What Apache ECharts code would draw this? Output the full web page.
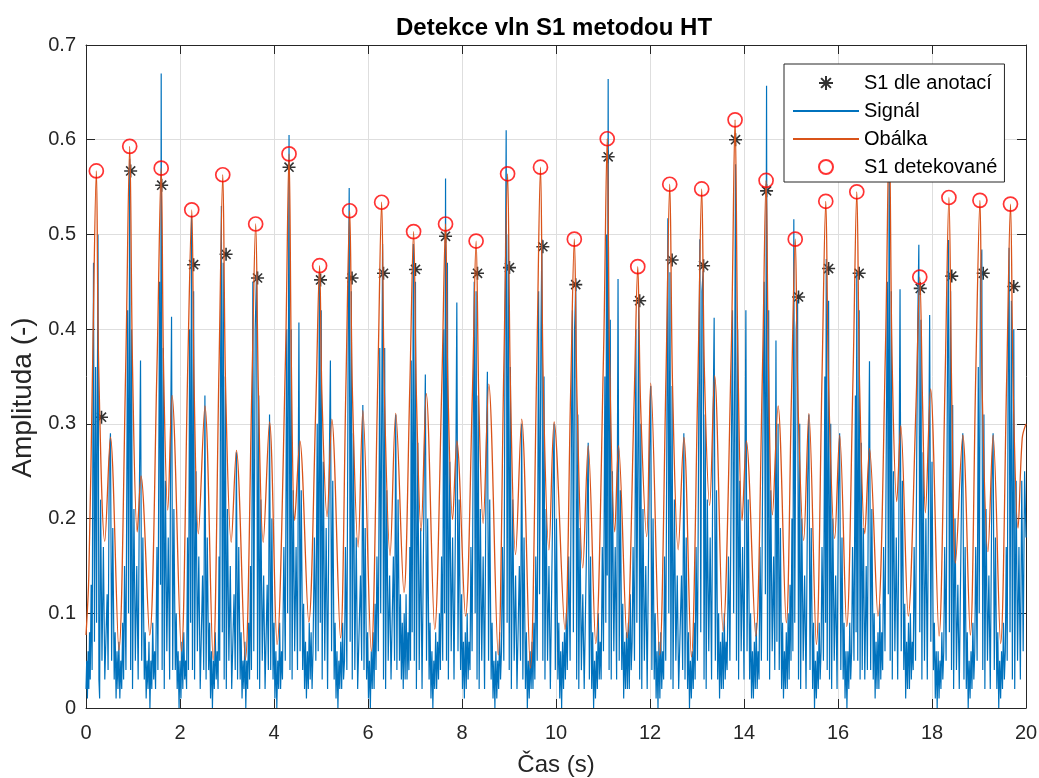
<!DOCTYPE html>
<html>
<head>
<meta charset="utf-8">
<script src="https://cdn.jsdelivr.net/npm/echarts@6/dist/echarts.min.js"></script>
<style>
  html, body { margin: 0; padding: 0; background: #fff; }
  #chart { width: 1039px; height: 778px; }
</style>
</head>
<body>
<div id="chart"></div>
<script>
// Axis ranges [min, max, step]
const xRange = [0, 20, 2];
const yRange = [0, 0.7, 0.1];

// S1 positions taken from the annotations (time s, amplitude)
const annotatedT = [0.33, 0.95, 1.61, 2.29, 2.98, 3.65, 4.32, 4.99, 5.66, 6.33, 7.01, 7.65, 8.33, 9.01, 9.72,
  10.42, 11.11, 11.78, 12.47, 13.14, 13.82, 14.48, 15.16, 15.80, 16.45, 17.10, 17.75, 18.42, 19.09, 19.74];
const annotatedV = [0.307, 0.567, 0.552, 0.468, 0.479, 0.454, 0.571, 0.452, 0.454, 0.459, 0.463, 0.498, 0.459, 0.465, 0.487,
  0.447, 0.582, 0.430, 0.473, 0.467, 0.600, 0.546, 0.434, 0.464, 0.459, 0.580, 0.443, 0.456, 0.459, 0.445];

// S1 detected as envelope maxima (time s, amplitude)
const detectedT = [0.22, 0.93, 1.60, 2.25, 2.91, 3.61, 4.32, 4.97, 5.61, 6.29, 6.97, 7.65, 8.30, 8.97, 9.67,
  10.39, 11.09, 11.74, 12.42, 13.10, 13.81, 14.47, 15.09, 15.74, 16.40, 17.09, 17.74, 18.36, 19.02, 19.67];
const detectedV = [0.567, 0.593, 0.570, 0.526, 0.563, 0.511, 0.585, 0.467, 0.525, 0.534, 0.503, 0.511, 0.493, 0.564, 0.571,
  0.495, 0.601, 0.466, 0.553, 0.548, 0.621, 0.557, 0.495, 0.535, 0.545, 0.610, 0.455, 0.539, 0.536, 0.532];

// Envelope between the S1 maxima: flanks, post-S1 dip, S2 hump, diastolic minimum
const envelopeShape = [
  [0.00,0.077],[0.06,0.14],[0.14,0.36],[0.27,0.36],[0.40,0.176],[0.52,0.286],[0.70,0.061],
  [0.845,0.36],[0.99,0.36],[1.09,0.186],[1.17,0.245],[1.355,0.077],
  [1.51,0.36],[1.65,0.36],[1.74,0.209],[1.83,0.330],[2.03,0.060],
  [2.165,0.36],[2.30,0.34],[2.39,0.184],[2.53,0.319],[2.705,0.051],
  [2.83,0.36],[2.97,0.34],[3.09,0.175],[3.20,0.272],[3.39,0.051],
  [3.53,0.34],[3.67,0.33],[3.77,0.175],[3.905,0.302],[4.065,0.067],
  [4.24,0.36],[4.37,0.36],[4.44,0.198],[4.55,0.282],[4.74,0.091],
  [4.89,0.32],[5.02,0.33],[5.13,0.202],[5.23,0.305],[5.415,0.074],
  [5.53,0.34],[5.67,0.33],[5.79,0.170],[5.89,0.314],[6.07,0.060],
  [6.21,0.35],[6.35,0.33],[6.47,0.161],[6.59,0.311],[6.765,0.122],
  [6.89,0.34],[7.03,0.33],[7.13,0.187],[7.24,0.332],[7.42,0.083],
  [7.57,0.34],[7.70,0.34],[7.80,0.199],[7.89,0.282],[8.075,0.097],
  [8.22,0.33],[8.36,0.32],[8.45,0.195],[8.57,0.342],[8.77,0.056],
  [8.89,0.36],[9.03,0.34],[9.14,0.162],[9.27,0.305],[9.455,0.042],
  [9.59,0.36],[9.73,0.34],[9.85,0.167],[9.96,0.302],[10.19,0.083],
  [10.31,0.33],[10.45,0.32],[10.57,0.148],[10.685,0.277],[10.845,0.068],
  [11.01,0.37],[11.14,0.37],[11.25,0.186],[11.33,0.277],[11.51,0.074],
  [11.66,0.32],[11.80,0.32],[11.93,0.181],[12.015,0.343],[12.205,0.056],
  [12.34,0.35],[12.48,0.34],[12.60,0.167],[12.72,0.286],[12.88,0.054],
  [13.02,0.35],[13.16,0.35],[13.27,0.214],[13.375,0.351],[13.555,0.081],
  [13.73,0.38],[13.87,0.37],[13.96,0.198],[14.05,0.282],[14.25,0.076],
  [14.39,0.35],[14.52,0.36],[14.605,0.204],[14.725,0.319],[14.90,0.090],
  [15.01,0.33],[15.15,0.32],[15.27,0.177],[15.38,0.311],[15.54,0.067],
  [15.66,0.35],[15.80,0.34],[15.93,0.179],[16.035,0.288],[16.185,0.086],
  [16.32,0.35],[16.46,0.34],[16.57,0.184],[16.67,0.274],[16.85,0.097],
  [17.01,0.38],[17.15,0.37],[17.25,0.218],[17.335,0.298],[17.495,0.097],
  [17.66,0.32],[17.80,0.32],[17.86,0.206],[17.97,0.337],[18.15,0.076],
  [18.28,0.35],[18.42,0.33],[18.50,0.153],[18.655,0.288],[18.815,0.077],
  [18.93,0.35],[19.07,0.33],[19.19,0.165],[19.30,0.288],[19.46,0.068],
  [19.59,0.35],[19.73,0.33],[19.83,0.190],[19.92,0.285],[20.00,0.300]
];

// Heart sound signal (time s, amplitude), one line per cardiac cycle
const signalPoints = [
  [0.00,0.02],[0.015,0.05],[0.03,0.01],
  [0.045,0.06],[0.06,0.02],[0.075,0.08],[0.09,0.03],[0.11,0.13],[0.13,0.04],[0.16,0.47],[0.18,0.07],[0.205,0.36],[0.225,0.09],[0.255,0.50],[0.275,0.03],[0.29,0.01],[0.31,0.22],[0.34,0.05],[0.37,0.17],[0.40,0.03],[0.45,0.12],[0.47,0.04],[0.495,0.26],[0.52,0.29],[0.545,0.05],[0.57,0.19],[0.60,0.03],[0.62,0.08],[0.64,0.01],[0.66,0.06],[0.68,0.02],[0.70,0.07],[0.72,0.01],
  [0.74,0.05],[0.76,0.02],[0.78,0.09],[0.80,0.03],[0.82,0.15],[0.85,0.04],[0.885,0.42],[0.905,0.10],[0.93,0.58],[0.95,0.04],[0.97,0.40],[0.99,0.02],[1.02,0.21],[1.05,0.05],[1.08,0.15],[1.11,0.03],[1.135,0.22],[1.16,0.367],[1.185,0.05],[1.21,0.18],[1.24,0.03],[1.26,0.08],[1.28,0.01],[1.30,0.05],[1.32,0.02],[1.34,0.07],[1.36,0.00],[1.38,0.05],
  [1.40,0.02],[1.42,0.09],[1.44,0.03],[1.46,0.06],[1.48,0.02],[1.51,0.17],[1.53,0.04],[1.565,0.45],[1.585,0.13],[1.60,0.67],[1.62,0.04],[1.645,0.38],[1.665,0.02],[1.69,0.24],[1.72,0.06],[1.75,0.18],[1.78,0.03],[1.80,0.28],[1.82,0.413],[1.845,0.04],[1.87,0.21],[1.90,0.04],[1.92,0.10],[1.94,0.02],[1.96,0.06],[1.98,0.00],[2.00,0.05],[2.02,0.01],[2.04,0.07],
  [2.06,0.02],[2.08,0.08],[2.10,0.03],[2.12,0.05],[2.14,0.02],[2.16,0.18],[2.18,0.04],[2.205,0.40],[2.225,0.09],[2.245,0.52],[2.265,0.04],[2.29,0.44],[2.31,0.03],[2.34,0.25],[2.37,0.06],[2.40,0.16],[2.43,0.02],[2.48,0.14],[2.505,0.04],[2.53,0.33],[2.555,0.03],[2.58,0.18],[2.61,0.04],[2.63,0.09],[2.65,0.01],[2.67,0.06],[2.69,0.00],[2.71,0.05],[2.73,0.02],
  [2.75,0.08],[2.77,0.03],[2.79,0.06],[2.81,0.02],[2.83,0.16],[2.845,0.05],[2.865,0.38],[2.88,0.53],[2.90,0.08],[2.92,0.47],[2.94,0.03],[2.965,0.35],[2.985,0.02],[3.01,0.21],[3.04,0.05],[3.07,0.15],[3.10,0.02],[3.15,0.12],[3.175,0.04],[3.20,0.27],[3.225,0.03],[3.25,0.17],[3.28,0.03],[3.30,0.08],[3.32,0.01],[3.34,0.05],[3.36,0.02],[3.38,0.07],[3.40,0.00],
  [3.42,0.05],[3.44,0.02],[3.46,0.09],[3.48,0.03],[3.50,0.15],[3.52,0.04],[3.55,0.45],[3.57,0.06],[3.60,0.40],[3.63,0.461],[3.65,0.03],[3.675,0.33],[3.695,0.02],[3.72,0.22],[3.75,0.05],[3.78,0.14],[3.81,0.02],[3.855,0.13],[3.88,0.04],[3.905,0.31],[3.93,0.04],[3.955,0.20],[3.98,0.03],[4.00,0.09],[4.02,0.01],[4.04,0.06],[4.06,0.00],[4.08,0.05],[4.10,0.02],
  [4.12,0.09],[4.14,0.02],[4.16,0.06],[4.18,0.03],[4.21,0.17],[4.24,0.05],[4.27,0.40],[4.29,0.10],[4.32,0.605],[4.34,0.04],[4.365,0.40],[4.385,0.03],[4.41,0.23],[4.44,0.06],[4.47,0.17],[4.50,0.04],[4.53,0.407],[4.555,0.06],[4.58,0.23],[4.61,0.04],[4.63,0.11],[4.65,0.02],[4.67,0.07],[4.69,0.01],[4.71,0.06],[4.73,0.02],[4.75,0.09],
  [4.77,0.03],[4.79,0.08],[4.81,0.02],[4.83,0.06],[4.86,0.18],[4.89,0.05],[4.92,0.30],[4.94,0.06],[4.965,0.46],[4.985,0.09],[5.005,0.42],[5.025,0.03],[5.05,0.26],[5.08,0.05],[5.11,0.19],[5.14,0.02],[5.175,0.25],[5.20,0.367],[5.225,0.06],[5.25,0.24],[5.28,0.03],[5.30,0.09],[5.32,0.01],[5.34,0.06],[5.36,0.00],[5.38,0.05],[5.40,0.02],[5.42,0.07],
  [5.44,0.02],[5.46,0.09],[5.48,0.03],[5.50,0.05],[5.52,0.17],[5.55,0.04],[5.58,0.40],[5.60,0.549],[5.62,0.07],[5.645,0.44],[5.665,0.03],[5.69,0.29],[5.72,0.04],[5.75,0.18],[5.78,0.02],[5.84,0.14],[5.865,0.05],[5.89,0.32],[5.915,0.04],[5.94,0.19],[5.97,0.03],[5.99,0.08],[6.01,0.01],[6.03,0.05],[6.05,0.00],[6.07,0.06],[6.09,0.02],
  [6.11,0.08],[6.13,0.02],[6.15,0.11],[6.17,0.04],[6.19,0.16],[6.22,0.06],[6.25,0.38],[6.27,0.10],[6.31,0.49],[6.33,0.03],[6.355,0.38],[6.375,0.02],[6.40,0.23],[6.43,0.05],[6.46,0.14],[6.49,0.03],[6.54,0.16],[6.565,0.05],[6.59,0.31],[6.615,0.04],[6.64,0.22],[6.67,0.05],[6.69,0.12],[6.71,0.03],[6.73,0.09],[6.75,0.02],[6.77,0.10],[6.79,0.03],
  [6.81,0.12],[6.83,0.03],[6.85,0.08],[6.87,0.04],[6.89,0.17],[6.905,0.05],[6.92,0.367],[6.94,0.08],[6.965,0.49],[6.985,0.05],[7.01,0.45],[7.03,0.02],[7.06,0.28],[7.09,0.04],[7.12,0.19],[7.15,0.02],[7.195,0.24],[7.22,0.352],[7.245,0.05],[7.27,0.20],[7.30,0.03],[7.32,0.09],[7.34,0.01],[7.36,0.06],[7.38,0.00],[7.40,0.05],[7.42,0.02],[7.44,0.08],
  [7.46,0.02],[7.48,0.07],[7.50,0.03],[7.52,0.10],[7.54,0.04],[7.565,0.16],[7.59,0.05],[7.61,0.40],[7.63,0.10],[7.65,0.559],[7.67,0.05],[7.69,0.47],[7.71,0.03],[7.74,0.26],[7.77,0.06],[7.80,0.18],[7.83,0.03],[7.865,0.22],[7.89,0.428],[7.915,0.06],[7.94,0.22],[7.97,0.04],[7.99,0.12],[8.01,0.02],[8.03,0.07],[8.05,0.01],[8.07,0.08],[8.09,0.02],
  [8.11,0.10],[8.13,0.03],[8.15,0.07],[8.17,0.04],[8.19,0.17],[8.215,0.06],[8.24,0.30],[8.26,0.45],[8.28,0.10],[8.30,0.44],[8.32,0.03],[8.345,0.33],[8.365,0.02],[8.39,0.21],[8.42,0.05],[8.45,0.16],[8.48,0.02],[8.515,0.26],[8.54,0.355],[8.565,0.05],[8.59,0.22],[8.62,0.03],[8.64,0.09],[8.66,0.01],[8.68,0.05],[8.70,0.00],[8.72,0.06],[8.74,0.01],[8.76,0.05],
  [8.78,0.02],[8.80,0.08],[8.82,0.03],[8.84,0.06],[8.86,0.17],[8.89,0.05],[8.915,0.38],[8.94,0.61],[8.96,0.09],[8.985,0.50],[9.005,0.04],[9.03,0.36],[9.05,0.02],[9.08,0.22],[9.11,0.05],[9.14,0.14],[9.17,0.02],[9.22,0.15],[9.245,0.05],[9.27,0.30],[9.295,0.03],[9.32,0.18],[9.35,0.02],[9.37,0.08],[9.39,0.00],[9.41,0.05],[9.43,0.01],[9.45,0.06],[9.47,0.02],
  [9.49,0.07],[9.51,0.02],[9.53,0.09],[9.55,0.03],[9.57,0.16],[9.60,0.05],[9.63,0.44],[9.65,0.12],[9.68,0.40],[9.70,0.495],[9.72,0.05],[9.745,0.35],[9.765,0.03],[9.79,0.21],[9.82,0.05],[9.85,0.15],[9.88,0.02],[9.935,0.23],[9.96,0.30],[9.985,0.04],[10.01,0.20],[10.04,0.03],[10.06,0.09],[10.08,0.01],[10.10,0.06],[10.12,0.00],[10.14,0.07],[10.16,0.02],
  [10.18,0.08],[10.20,0.03],[10.22,0.10],[10.24,0.04],[10.27,0.16],[10.30,0.05],[10.33,0.30],[10.35,0.42],[10.37,0.08],[10.395,0.40],[10.42,0.446],[10.44,0.03],[10.465,0.31],[10.485,0.02],[10.51,0.19],[10.54,0.04],[10.57,0.12],[10.60,0.02],[10.66,0.20],[10.685,0.28],[10.71,0.03],[10.735,0.16],[10.76,0.02],[10.78,0.08],[10.80,0.00],[10.82,0.05],[10.84,0.01],[10.86,0.06],[10.88,0.02],
  [10.90,0.10],[10.92,0.03],[10.94,0.07],[10.96,0.03],[10.985,0.17],[11.01,0.06],[11.04,0.35],[11.06,0.09],[11.075,0.50],[11.09,0.14],[11.11,0.664],[11.13,0.04],[11.155,0.41],[11.175,0.03],[11.20,0.25],[11.23,0.06],[11.26,0.17],[11.29,0.03],[11.32,0.453],[11.345,0.05],[11.37,0.23],[11.40,0.04],[11.42,0.11],[11.44,0.01],[11.46,0.07],[11.48,0.02],[11.50,0.08],[11.52,0.02],
  [11.54,0.09],[11.56,0.02],[11.58,0.12],[11.60,0.04],[11.62,0.07],[11.64,0.17],[11.67,0.05],[11.70,0.40],[11.72,0.09],[11.76,0.43],[11.78,0.03],[11.805,0.30],[11.825,0.02],[11.85,0.21],[11.88,0.05],[11.91,0.15],[11.94,0.02],[11.99,0.27],[12.015,0.34],[12.04,0.04],[12.065,0.20],[12.09,0.03],[12.11,0.10],[12.13,0.01],[12.15,0.06],[12.17,0.00],[12.19,0.07],[12.21,0.01],
  [12.23,0.08],[12.25,0.02],[12.27,0.06],[12.29,0.03],[12.31,0.16],[12.335,0.05],[12.36,0.30],[12.38,0.517],[12.40,0.10],[12.425,0.46],[12.445,0.03],[12.47,0.34],[12.49,0.02],[12.52,0.22],[12.55,0.05],[12.58,0.14],[12.61,0.02],[12.67,0.14],[12.695,0.04],[12.72,0.29],[12.745,0.03],[12.77,0.18],[12.80,0.02],[12.82,0.08],[12.84,0.00],[12.86,0.05],[12.88,0.01],[12.90,0.06],
  [12.92,0.02],[12.94,0.09],[12.96,0.03],[12.98,0.17],[13.01,0.05],[13.04,0.33],[13.06,0.495],[13.08,0.08],[13.105,0.44],[13.13,0.461],[13.15,0.03],[13.175,0.31],[13.195,0.02],[13.22,0.22],[13.25,0.06],[13.28,0.18],[13.31,0.03],[13.34,0.29],[13.365,0.412],[13.39,0.05],[13.415,0.23],[13.44,0.03],[13.46,0.10],[13.48,0.01],[13.50,0.07],[13.52,0.02],[13.54,0.08],[13.56,0.02],
  [13.58,0.10],[13.60,0.03],[13.62,0.07],[13.64,0.04],[13.67,0.16],[13.70,0.05],[13.73,0.26],[13.755,0.42],[13.78,0.10],[13.82,0.574],[13.84,0.05],[13.865,0.40],[13.885,0.03],[13.91,0.24],[13.94,0.06],[13.97,0.17],[14.00,0.03],[14.04,0.42],[14.065,0.06],[14.09,0.22],[14.12,0.03],[14.14,0.10],[14.16,0.01],[14.18,0.06],[14.20,0.01],[14.22,0.07],[14.24,0.02],
  [14.26,0.09],[14.28,0.02],[14.30,0.06],[14.32,0.03],[14.34,0.17],[14.37,0.05],[14.40,0.27],[14.43,0.45],[14.455,0.12],[14.48,0.657],[14.50,0.05],[14.525,0.42],[14.545,0.03],[14.57,0.23],[14.60,0.06],[14.63,0.16],[14.655,0.04],[14.68,0.388],[14.70,0.07],[14.725,0.30],[14.75,0.04],[14.775,0.19],[14.80,0.02],[14.82,0.09],[14.84,0.01],[14.86,0.06],[14.88,0.02],[14.90,0.08],[14.92,0.02],
  [14.94,0.10],[14.96,0.03],[14.98,0.13],[15.00,0.05],[15.02,0.20],[15.04,0.06],[15.06,0.516],[15.08,0.09],[15.11,0.40],[15.14,0.431],[15.16,0.03],[15.185,0.30],[15.205,0.02],[15.23,0.20],[15.26,0.05],[15.29,0.14],[15.32,0.02],[15.355,0.24],[15.38,0.31],[15.405,0.04],[15.43,0.19],[15.46,0.02],[15.48,0.09],[15.50,0.00],[15.52,0.05],[15.54,0.01],[15.56,0.06],
  [15.58,0.02],[15.60,0.09],[15.62,0.03],[15.64,0.06],[15.66,0.17],[15.69,0.05],[15.72,0.35],[15.735,0.09],[15.75,0.474],[15.77,0.04],[15.80,0.43],[15.82,0.03],[15.845,0.30],[15.865,0.02],[15.89,0.20],[15.92,0.05],[15.95,0.14],[15.98,0.02],[16.01,0.23],[16.035,0.29],[16.06,0.04],[16.085,0.18],[16.11,0.03],[16.13,0.09],[16.15,0.01],[16.17,0.06],[16.19,0.00],[16.21,0.06],
  [16.23,0.02],[16.25,0.09],[16.27,0.03],[16.29,0.06],[16.31,0.17],[16.34,0.05],[16.37,0.33],[16.385,0.08],[16.40,0.46],[16.42,0.05],[16.45,0.42],[16.47,0.03],[16.495,0.28],[16.515,0.04],[16.54,0.19],[16.57,0.03],[16.60,0.15],[16.625,0.04],[16.645,0.22],[16.67,0.366],[16.695,0.04],[16.72,0.21],[16.75,0.03],[16.77,0.10],[16.79,0.01],[16.81,0.07],[16.83,0.02],[16.85,0.08],[16.87,0.02],
  [16.89,0.11],[16.91,0.03],[16.93,0.08],[16.95,0.04],[16.97,0.17],[17.00,0.06],[17.03,0.30],[17.05,0.45],[17.07,0.12],[17.09,0.62],[17.11,0.05],[17.135,0.44],[17.155,0.03],[17.18,0.25],[17.21,0.06],[17.24,0.18],[17.27,0.03],[17.295,0.20],[17.32,0.442],[17.345,0.06],[17.37,0.24],[17.40,0.04],[17.42,0.11],[17.44,0.01],[17.46,0.07],[17.48,0.02],[17.50,0.09],[17.52,0.02],
  [17.54,0.10],[17.56,0.03],[17.58,0.07],[17.60,0.04],[17.62,0.17],[17.65,0.05],[17.675,0.27],[17.695,0.40],[17.72,0.489],[17.74,0.08],[17.765,0.41],[17.785,0.03],[17.81,0.27],[17.84,0.05],[17.87,0.20],[17.90,0.03],[17.925,0.22],[17.95,0.415],[17.975,0.07],[18.00,0.26],[18.03,0.04],[18.05,0.09],[18.07,0.01],[18.09,0.06],[18.11,0.00],[18.13,0.06],[18.15,0.01],[18.17,0.05],
  [18.19,0.02],[18.21,0.08],[18.23,0.03],[18.25,0.06],[18.27,0.17],[18.30,0.05],[18.33,0.37],[18.35,0.494],[18.37,0.08],[18.395,0.44],[18.415,0.04],[18.44,0.32],[18.46,0.02],[18.49,0.20],[18.52,0.04],[18.55,0.13],[18.58,0.02],[18.63,0.23],[18.655,0.29],[18.68,0.03],[18.705,0.17],[18.73,0.02],[18.75,0.08],[18.77,0.00],[18.79,0.05],[18.81,0.01],[18.83,0.06],
  [18.85,0.02],[18.87,0.09],[18.89,0.03],[18.91,0.06],[18.93,0.17],[18.96,0.05],[18.985,0.36],[19.005,0.10],[19.03,0.45],[19.06,0.484],[19.08,0.04],[19.105,0.31],[19.125,0.02],[19.15,0.21],[19.18,0.05],[19.21,0.14],[19.24,0.02],[19.275,0.24],[19.30,0.29],[19.325,0.04],[19.35,0.18],[19.38,0.02],[19.40,0.08],[19.42,0.00],[19.44,0.05],[19.46,0.01],[19.48,0.06],
  [19.50,0.02],[19.52,0.09],[19.54,0.03],[19.56,0.06],[19.58,0.17],[19.60,0.05],[19.62,0.35],[19.64,0.486],[19.66,0.08],[19.69,0.43],[19.71,0.03],[19.74,0.40],[19.76,0.02],[19.79,0.24],[19.82,0.05],[19.85,0.17],[19.88,0.03],[19.91,0.24],[19.94,0.06],[19.97,0.25],[20.00,0.18]
];

// Envelope = shape points plus the detected maxima, ordered by time
const envelopePoints = envelopeShape
  .concat(detectedT.map((t, i) => [t, detectedV[i]]))
  .sort((a, b) => a[0] - b[0]);

const FONT = '"Liberation Sans", Arial, Helvetica, sans-serif';
const AXIS_COLOR = '#262626';
const STAR = 'path://M0,-10L0,10M-10,0L10,0M-7,-7L7,7M-7,7L7,-7';

const chart = echarts.init(document.getElementById('chart'), null, { renderer: 'canvas' });

const baseAxis = {
  axisLine: { show: true, onZero: false, lineStyle: { color: AXIS_COLOR, width: 1 } },
  axisTick: { show: true, inside: true, length: 9, lineStyle: { color: AXIS_COLOR, width: 1 } }
};

chart.setOption({
  animation: false,
  backgroundColor: '#ffffff',
  textStyle: { fontFamily: FONT },
  title: {
    text: 'Detekce vln S1 metodou HT',
    left: 549, top: 11, textAlign: 'center',
    textStyle: { fontFamily: FONT, fontSize: 24, fontWeight: 'bold', color: '#000' }
  },
  grid: { left: 86, right: 13, top: 45, bottom: 70, containLabel: false, outerBoundsMode: 'none' },
  legend: {
    orient: 'vertical',
    left: 784, top: 64,
    z: 50,
    padding: [9, 7, 5, 8],
    itemWidth: 66, itemHeight: 14, itemGap: 8,
    backgroundColor: '#ffffff',
    borderColor: AXIS_COLOR, borderWidth: 1, borderRadius: 0,
    textStyle: { fontFamily: FONT, fontSize: 20, color: '#000', lineHeight: 20 },
    data: [
      { name: 'S1 dle anotací' },
      { name: 'Signál', itemStyle: { opacity: 0 } },
      { name: 'Obálka', itemStyle: { opacity: 0 } },
      { name: 'S1 detekované' }
    ]
  },
  xAxis: [
    Object.assign({}, baseAxis, {
      type: 'value', position: 'bottom', min: xRange[0], max: xRange[1], interval: xRange[2],
      name: 'Čas (s)', nameLocation: 'middle', nameGap: 45,
      nameTextStyle: { fontFamily: FONT, fontSize: 24, color: AXIS_COLOR },
      axisLabel: { fontFamily: FONT, fontSize: 20, color: AXIS_COLOR, margin: 15 },
      splitLine: { show: true, lineStyle: { color: '#dedede', width: 1 } }
    }),
    Object.assign({}, baseAxis, {
      type: 'value', position: 'top', min: xRange[0], max: xRange[1], interval: xRange[2],
      axisLabel: { show: false }, splitLine: { show: false }
    })
  ],
  yAxis: [
    Object.assign({}, baseAxis, {
      type: 'value', position: 'left', min: yRange[0], max: yRange[1], interval: yRange[2],
      name: 'Amplituda (-)', nameLocation: 'middle', nameGap: 39, nameRotate: 90,
      nameTextStyle: { fontFamily: FONT, fontSize: 28, color: AXIS_COLOR, padding: [0, 42, 0, 0] },
      axisLabel: {
        fontFamily: FONT, fontSize: 20, color: AXIS_COLOR, margin: 10,
        formatter: v => (v === 0 ? '0' : v.toFixed(1))
      },
      splitLine: { show: true, lineStyle: { color: '#dedede', width: 1 } }
    }),
    Object.assign({}, baseAxis, {
      type: 'value', position: 'right', min: yRange[0], max: yRange[1], interval: yRange[2],
      axisLabel: { show: false }, splitLine: { show: false }
    })
  ],
  series: [
    {
      name: 'S1 dle anotací',
      type: 'scatter',
      z: 1,
      symbol: STAR,
      symbolSize: 13,
      itemStyle: { color: 'rgba(0,0,0,0)', borderColor: '#000', borderWidth: 1.6 },
      data: annotatedT.map((t, i) => [t, annotatedV[i]])
    },
    {
      name: 'Signál',
      type: 'line',
      z: 2,
      symbol: 'none',
      lineStyle: { color: '#0072BD', width: 1.2 },
      itemStyle: { color: '#0072BD' },
      data: signalPoints
    },
    {
      name: 'Obálka',
      type: 'line',
      z: 3,
      symbol: 'none',
      smooth: 0.35,
      lineStyle: { color: '#D95319', width: 1.3 },
      itemStyle: { color: '#D95319' },
      data: envelopePoints
    },
    {
      name: 'S1 detekované',
      type: 'scatter',
      z: 4,
      symbol: 'circle',
      symbolSize: 14,
      itemStyle: { color: 'rgba(0,0,0,0)', borderColor: '#ff0000', borderWidth: 1.7 },
      data: detectedT.map((t, i) => [t, detectedV[i]])
    }
  ]
});
</script>
</body>
</html>
